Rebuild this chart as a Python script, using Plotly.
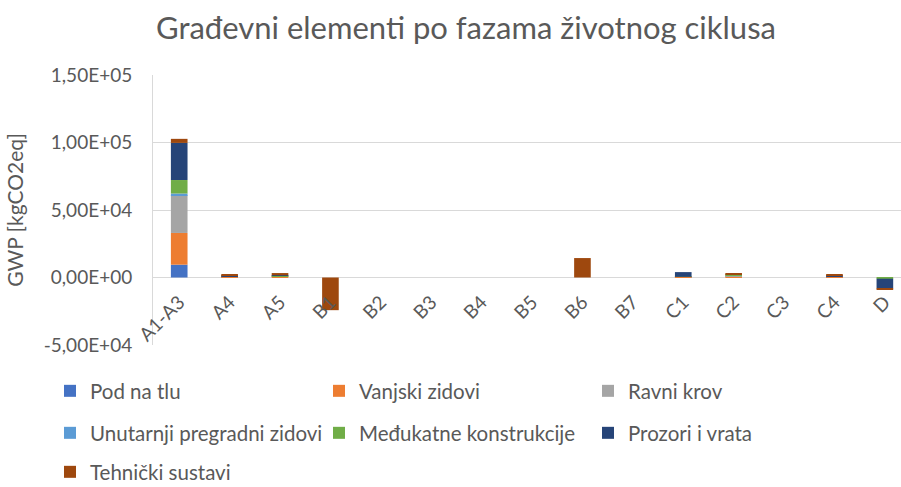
import plotly.graph_objects as go

# Life-cycle phases (EN 15978 modules)
phases = ["A1-A3", "A4", "A5", "B1", "B2", "B3", "B4", "B5", "B6", "B7",
          "C1", "C2", "C3", "C4", "D"]

# GWP per building element and phase [kgCO2eq]
pod_na_tlu =        [9500,  300,    0,      0, 0, 0, 0, 0,     0, 0,  300,    0, 0,  200,     0]
vanjski_zidovi =    [23500, 300,  600,      0, 0, 0, 0, 0,     0, 0,  100, 1000, 0,  500,     0]
ravni_krov =        [28000,   0,  200,      0, 0, 0, 0, 0,     0, 0,    0,  300, 0,    0,     0]
unutarnji_zidovi =  [1200,    0,    0,      0, 0, 0, 0, 0,     0, 0,    0,    0, 0,    0,     0]
medjukatne =        [10000, 200,  700,      0, 0, 0, 0, 0,     0, 0,  100,  600, 0,    0,  -900]
prozori_vrata =     [27500, 500,  200,      0, 0, 0, 0, 0,     0, 0, 3500,    0, 0,  600, -7200]
tehnicki_sustavi =  [3000, 1200, 1600, -24200, 0, 0, 0, 0, 14400, 0,    0,  900, 0,  900,  -700]

series = [
    ("Pod na tlu", pod_na_tlu, "#4472C4", "legend"),
    ("Vanjski zidovi", vanjski_zidovi, "#ED7D31", "legend"),
    ("Ravni krov", ravni_krov, "#A5A5A5", "legend"),
    ("Unutarnji pregradni zidovi", unutarnji_zidovi, "#5B9BD5", "legend2"),
    ("Međukatne konstrukcije", medjukatne, "#70AD47", "legend2"),
    ("Prozori i vrata", prozori_vrata, "#264478", "legend2"),
    ("Tehnički sustavi", tehnicki_sustavi, "#9E480E", "legend3"),
]

y_ticks = [-50000, 0, 50000, 100000, 150000]
y_tick_text = ["-5,00E+04", "0,00E+00", "5,00E+04", "1,00E+05", "1,50E+05"]

FONT = "Lato, 'Open Sans', sans-serif"
GREY = "#595959"
GRID = "#D9D9D9"

fig = go.Figure()
for name, vals, color, leg in series:
    fig.add_trace(go.Bar(
        x=phases, y=vals, name=name, legend=leg,
        marker=dict(color=color, line=dict(width=0)),
    ))

legend_common = dict(
    orientation="h", xanchor="left", yanchor="middle",
    font=dict(family=FONT, size=20.5, color=GREY),
    entrywidth=224, entrywidthmode="pixels",
    bgcolor="rgba(0,0,0,0)", itemwidth=30,
)
LEG_X = (50 - 153) / 748

fig.update_layout(
    width=901, height=487,
    margin=dict(l=153, r=0, t=75, b=142, autoexpand=False),
    paper_bgcolor="white", plot_bgcolor="white",
    barmode="relative", bargap=0.67,
    showlegend=True,
    title=dict(
        text="Građevni elementi po fazama životnog ciklusa",
        x=466 / 901, xref="container", xanchor="center",
        y=1 - 28 / 487, yref="container", yanchor="middle",
        font=dict(family=FONT, size=31, color=GREY),
    ),
    font=dict(family=FONT, color=GREY),
    xaxis=dict(
        type="category", range=[-0.52, 14.32],
        anchor="free", position=0.25, automargin=False,
        showgrid=False, showline=False, zeroline=False, ticks="",
        tickangle=-45, ticklabelstandoff=9,
        tickfont=dict(family=FONT, size=19, color=GREY),
    ),
    yaxis=dict(
        range=[-50000, 150000], automargin=False,
        tickvals=y_ticks, ticktext=y_tick_text,
        tickfont=dict(family=FONT, size=19, color=GREY),
        showgrid=True, gridcolor=GRID, gridwidth=1,
        zeroline=True, zerolinecolor=GRID, zerolinewidth=1,
        showline=True, linecolor=GRID, linewidth=1,
        ticks="", ticklabelstandoff=16,
        title=dict(text="GWP [kgCO2eq]", standoff=14,
                   font=dict(family=FONT, size=21, color=GREY)),
    ),
    legend=dict(x=LEG_X, y=(345 - 391) / 270, **legend_common),
    legend2=dict(x=LEG_X, y=(345 - 433) / 270, **legend_common),
    legend3=dict(x=LEG_X, y=(345 - 472) / 270, **legend_common),
)

fig.write_html("out.html")
